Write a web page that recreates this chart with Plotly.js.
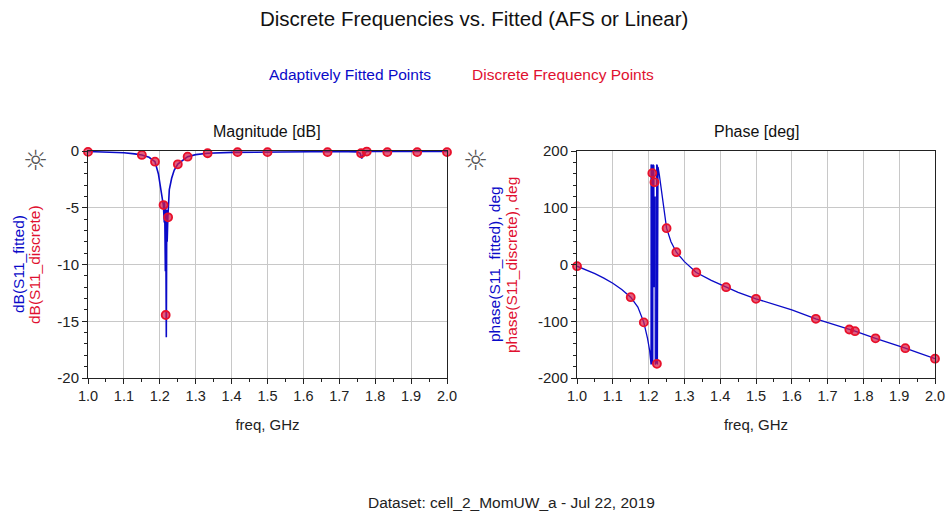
<!DOCTYPE html>
<html>
<head>
<meta charset="utf-8">
<script src="https://cdn.plot.ly/plotly-3.0.1.min.js"></script>
<style>
html,body{margin:0;padding:0;background:#fff;}
#chart{width:949px;height:515px;}
</style>
</head>
<body>
<div id="chart"></div>
<script>
// Discrete frequency points (GHz)
const discFreq = [1.0, 1.15, 1.1866, 1.2104, 1.2164, 1.2232, 1.2502, 1.2775, 1.3332, 1.4165, 1.5, 1.6672, 1.7607, 1.7765, 1.8338, 1.917, 2.0];
const discMag  = [-0.08, -0.35, -0.94, -4.76, -14.45, -5.84, -1.17, -0.5, -0.2, -0.1, -0.1, -0.1, -0.2, -0.05, -0.1, -0.1, -0.1];
const discPhase= [-3, -57.6, -102, 161, 145, -175, 64, 21.7, -14, -40, -60.5, -95.7, -114.5, -117.5, -130, -147.5, -166];

// Adaptively fitted curve - magnitude
const fitMagFreq = [1.0, 1.05, 1.1, 1.13, 1.15, 1.17, 1.1866, 1.196, 1.2, 1.205, 1.21, 1.2125, 1.2135, 1.2155, 1.2165, 1.2181, 1.2195, 1.2205, 1.2225, 1.2265, 1.233, 1.24, 1.2502, 1.2775, 1.3, 1.3332, 1.4, 1.5, 1.6, 1.7, 1.75, 1.758, 1.7626, 1.768, 1.776, 1.79, 1.9, 2.0];
const fitMag     = [-0.05, -0.08, -0.15, -0.25, -0.35, -0.55, -0.94, -2.0, -2.8, -3.9, -4.8, -6.3, -4.5, -10.6, -5.0, -16.4, -5.2, -8.0, -5.8, -3.4, -2.4, -1.7, -1.15, -0.5, -0.32, -0.2, -0.12, -0.08, -0.06, -0.05, -0.08, -0.2, -0.65, -0.2, -0.05, -0.04, -0.03, -0.03];

// Adaptively fitted curve - phase
const fitPhFreq = [1.0, 1.025, 1.05, 1.075, 1.1, 1.125, 1.15, 1.17, 1.1866, 1.197, 1.203, 1.2067, 1.2069, 1.2092, 1.2094, 1.2118, 1.212, 1.2148, 1.215, 1.2185, 1.2187, 1.2224, 1.2226, 1.2244, 1.2246, 1.2263, 1.23, 1.2365, 1.241, 1.2502, 1.2625, 1.2775, 1.3, 1.3332, 1.375, 1.4165, 1.45, 1.5, 1.55, 1.6, 1.6672, 1.7, 1.7607, 1.7765, 1.8338, 1.875, 1.917, 1.95, 2.0];
const fitPhase  = [-3, -9, -16, -24, -33, -44, -57.6, -75, -102, -130, -152, -176, 176, 174, -176, -172, 176, 174, -40, 120, -176, -172, 176, 174, -176, 172, 158, 130, 104, 64, 40, 21.7, 5, -14, -28, -40, -49, -60.5, -70, -80, -95.7, -102, -114.5, -117.5, -130, -138, -147.5, -155, -166];

// Tick labels
const magTickVals = [0, -5, -10, -15, -20];
const magTickText = ['0', '-5', '-10', '-15', '-20'];
const phTickVals  = [200, 100, 0, -100, -200];
const phTickText  = ['200', '100', '0', '-100', '-200'];

const BLUE = '#0a0ac8';
const RED = '#e01030';
const FONT = '"Liberation Sans", Arial, sans-serif';

const markerStyle = {symbol:'circle', size:8, color:'rgba(215,25,70,0.7)', line:{color:'#e8102a', width:1.8}};

const traces = [
  {x: fitMagFreq, y: fitMag, type:'scatter', mode:'lines', line:{color:BLUE, width:1.6}, xaxis:'x', yaxis:'y'},
  {x: discFreq, y: discMag, type:'scatter', mode:'markers', marker: markerStyle, xaxis:'x', yaxis:'y', cliponaxis:false},
  {x: fitPhFreq, y: fitPhase, type:'scatter', mode:'lines', line:{color:BLUE, width:1.3}, xaxis:'x2', yaxis:'y2'},
  {x: discFreq, y: discPhase, type:'scatter', mode:'markers', marker: markerStyle, xaxis:'x2', yaxis:'y2', cliponaxis:false}
];

const W = 949, H = 515;
const px = v => v / W;
const py = v => 1 - v / H;

const xCommon = {
  range:[1, 2], dtick:0.1, tick0:1, tickformat:'.1f',
  showgrid:true, gridcolor:'#c8c8c8', gridwidth:1,
  showline:true, linecolor:'#222', linewidth:1, mirror:true,
  ticks:'outside', ticklen:5, tickcolor:'#222',
  minor:{dtick:0.05, tick0:1, ticks:'outside', ticklen:3, tickcolor:'#222', showgrid:false},
  tickfont:{family:FONT, size:14.5, color:'#222'},
  zeroline:false,
  title:{text:'freq, GHz', font:{family:FONT, size:15, color:'#222'}, standoff:16}
};
const yCommon = {
  showgrid:true, gridcolor:'#c8c8c8', gridwidth:1,
  showline:true, linecolor:'#222', linewidth:1, mirror:true,
  ticks:'outside', ticklen:5, tickcolor:'#222',
  tickfont:{family:FONT, size:15, color:'#222'},
  zeroline:false, tickmode:'array'
};

function ann(text, x, y, size, color, extra) {
  return Object.assign({text:text, x:px(x), y:py(y), xref:'paper', yref:'paper', xanchor:'center', yanchor:'middle', showarrow:false,
    font:{family:FONT, size:size, color:color}}, extra || {});
}

const layout = {
  width:W, height:H,
  margin:{l:0, r:0, t:0, b:0},
  paper_bgcolor:'#fff', plot_bgcolor:'#fff',
  showlegend:false,
  font:{family:FONT, color:'#222'},
  xaxis: Object.assign({}, xCommon, {domain:[px(88), px(447)], anchor:'y'}),
  xaxis2: Object.assign({}, xCommon, {domain:[px(577), px(935)], anchor:'y2'}),
  yaxis: Object.assign({}, yCommon, {domain:[py(378), py(151)], anchor:'x', range:[-20, 0], tickvals:magTickVals, ticktext:magTickText,
    minor:{tickmode:'linear', tick0:0, dtick:1, ticks:'outside', ticklen:3, tickcolor:'#222', showgrid:false}}),
  yaxis2: Object.assign({}, yCommon, {domain:[py(378), py(151)], anchor:'x2', range:[-200, 200], tickvals:phTickVals, ticktext:phTickText,
    minor:{tickmode:'linear', tick0:0, dtick:20, ticks:'outside', ticklen:3, tickcolor:'#222', showgrid:false}}),
  annotations:[
    ann('Discrete Frequencies vs. Fitted (AFS or Linear)', 474, 18, 20.5, '#111'),
    ann('Adaptively Fitted Points', 350, 75, 15.5, BLUE),
    ann('Discrete Frequency Points', 563, 75, 15.5, RED),
    ann('Magnitude [dB]', 267, 131, 16, '#111'),
    ann('Phase [deg]', 756, 131, 16, '#111'),
    ann('dB(S11_fitted)', 18, 264, 15.5, BLUE, {textangle:-90}),
    ann('dB(S11_discrete)', 34, 265, 15.5, RED, {textangle:-90}),
    ann('phase(S11_fitted), deg', 494, 264, 15.5, BLUE, {textangle:-90}),
    ann('phase(S11_discrete), deg', 511, 265, 15.5, RED, {textangle:-90}),
    ann('☼', 35, 161, 28, '#555', {font:{family:'DejaVu Sans', size:28, color:'#555'}}),
    ann('☼', 475, 161, 28, '#555', {font:{family:'DejaVu Sans', size:28, color:'#555'}}),
    ann('Dataset: cell_2_MomUW_a - Jul 22, 2019', 512, 502, 15.5, '#222')
  ]
};

Plotly.newPlot('chart', traces, layout, {displayModeBar:false, staticPlot:true});
</script>
</body>
</html>
